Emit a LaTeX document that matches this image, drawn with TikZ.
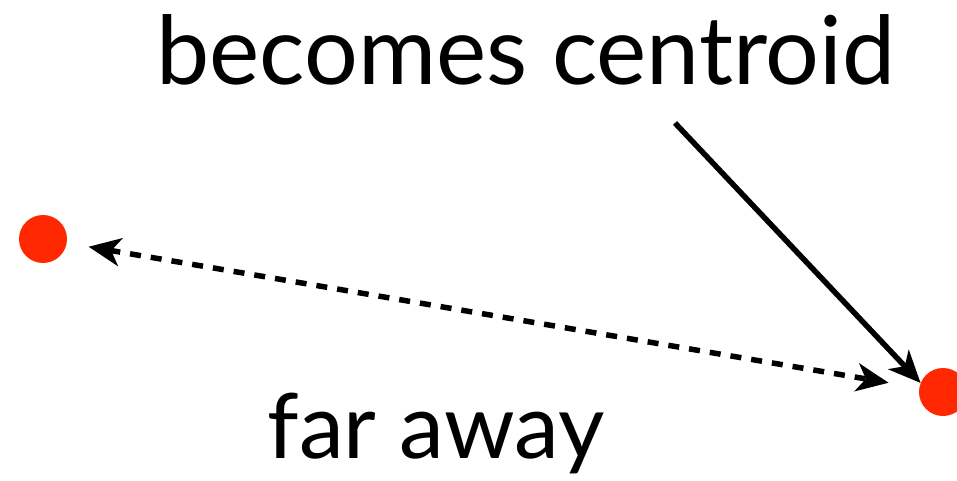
\documentclass[tikz,border=0pt]{standalone}
\usepackage{fontspec}
\setmainfont{Lato}
\usetikzlibrary{arrows.meta}
\definecolor{dotred}{RGB}{255,40,0}
\tikzset{
  dot/.style={circle,fill=dotred,draw=none,minimum size=48pt,inner sep=0pt},
  bigtext/.style={anchor=base,inner sep=0pt},
  arr/.style={line width=5.5pt,-{Stealth[length=32pt,width=28pt,inset=9pt]}},
  dasharr/.style={line width=5.5pt,{Stealth[length=32pt,width=28pt,inset=9pt]}-{Stealth[length=32pt,width=28pt,inset=9pt]},dash pattern=on 11pt off 10pt}
}
\begin{document}
\begin{tikzpicture}[x=1pt,y=1pt]
\useasboundingbox (0,0) rectangle (957,-481);
\clip (0,0) rectangle (957,-481);
\node[dot] (dotL) at (43,-239) {};
\node[dot] (dotR) at (943,-392) {};
\node[bigtext,font=\fontsize{95}{105}\selectfont] (top) at (526,-85) {becomes centroid};
\node[bigtext,font=\fontsize{90}{100}\selectfont] (bot) at (436,-458) {far away};
\coordinate (s) at (675,-123);
\draw[arr] (s) -- (dotR.158);
\draw[dasharr,shorten <=22pt,shorten >=31pt] (dotL) -- (dotR);
\end{tikzpicture}
\end{document}
